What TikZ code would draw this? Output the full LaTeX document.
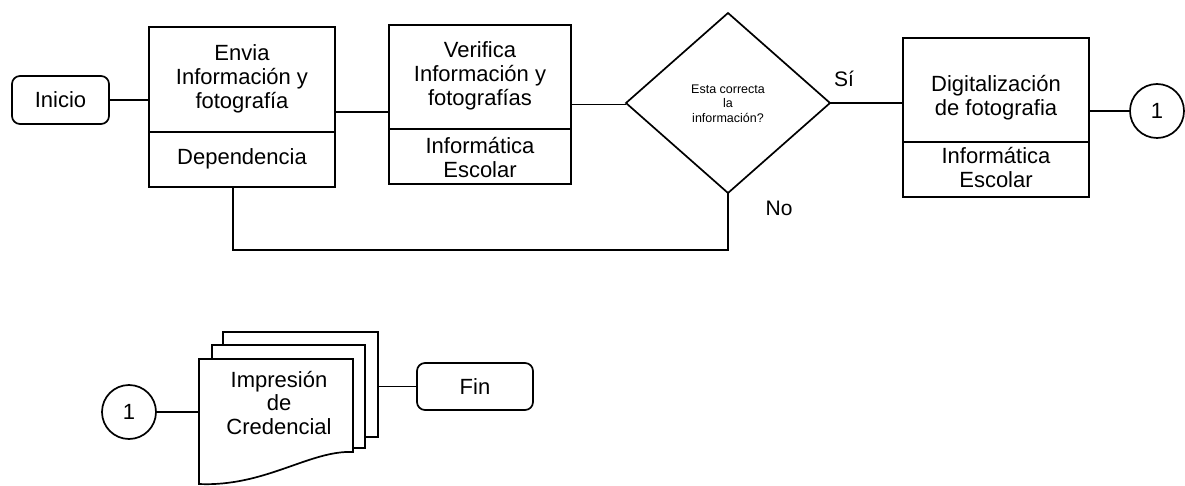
\documentclass[tikz,border=0pt]{standalone}
\usepackage{fontspec}
\setmainfont{Liberation Sans}
\usetikzlibrary{shapes.geometric}
\begin{document}
\begin{tikzpicture}[x=1pt,y=-1pt,
  every node/.style={inner sep=0pt, outer sep=0pt},
  txt/.style={font=\fontsize{22}{24}\selectfont, align=center},
  small/.style={font=\fontsize{12.5}{14.5}\selectfont, align=center},
  ln/.style={line width=1.7pt},
  procbox/.style={draw, line width=1.7pt, rectangle},
  term/.style={draw, line width=1.7pt, rectangle, rounded corners=8pt, font=\fontsize{22}{24}\selectfont},
  conn/.style={draw, line width=1.7pt, circle, minimum size=54pt, font=\fontsize{22}{24}\selectfont},
  decision/.style={draw, line width=1.7pt, diamond, minimum width=204pt, minimum height=180pt}]
\fill[white] (0,0) rectangle (1185,486);
\useasboundingbox (0,0) rectangle (1185,486);
% top row
\node[term, minimum width=97pt, minimum height=48pt] (inicio) at (60.5,100) {Inicio};
\node[procbox, minimum width=186pt, minimum height=160pt] (env) at (242,107) {};
\node[procbox, minimum width=182pt, minimum height=159pt] (ver) at (480,104.5) {};
\node[decision] (dia) at (728,103) {};
\node[procbox, minimum width=186pt, minimum height=159pt] (dig) at (996,117.5) {};
\node[conn] (c1) at (1157,111) {1};
% dividers
\coordinate (d1) at (0,132);
\coordinate (d2) at (0,129);
\coordinate (d3) at (0,142);
\draw[ln] (env.west |- d1) -- (env.east |- d1);
\draw[ln] (ver.west |- d2) -- (ver.east |- d2);
\draw[ln] (dig.west |- d3) -- (dig.east |- d3);
% texts
\node[txt] (envt) at (242,79) {Envia\\Información y\\fotografía};
\node[txt] (envd) at (242,159) {Dependencia};
\node[txt] (vert) at (480,76) {Verifica\\Información y\\fotografías};
\node[txt] (verd) at (480,157.5) {Informática\\Escolar};
\node[small] (diat) at (728,103.5) {Esta correcta\\la\\información?};
\node[txt] (digt) at (996,97.5) {Digitalización\\de fotografia};
\node[txt] (digd) at (996,168) {Informática\\Escolar};
\node[txt, font=\fontsize{21}{24}\selectfont] (si) at (844,79) {Sí};
\node[txt, font=\fontsize{21}{24}\selectfont] (no) at (779,208) {No};
% connectors
\draw[ln] (inicio.east) -- (inicio.east -| env.west);
\draw[line width=2.2pt] ([yshift=-5pt]env.east) -- ([yshift=-5pt]env.east -| ver.west);
\draw[ln] (ver.east) -- (ver.east -| dia.west);
\draw[ln] (dia.east) -- (dia.east -| dig.west);
\draw[ln] (c1.west -| dig.east) -- (c1.west);
\coordinate (fbk) at (0,250);
\draw[ln] ([xshift=-9pt]env.south) |- (dia.south |- fbk) -- (dia.south);
% bottom row
\node[conn] (c2) at (129,412) {1};
\node[procbox, fill=white, minimum width=155pt, minimum height=105pt] (back) at (300.5,384.5) {};
\node[procbox, fill=white, minimum width=153pt, minimum height=103pt] (mid) at (288.5,396.5) {};
\draw[ln, fill=white] (199,359) -- (353,359) -- (353,452) .. controls (310,450) and (265,487) .. (199,484) -- cycle;
\node[txt, font=\fontsize{22}{23.5}\selectfont] (doct) at (279,403) {Impresión\\de\\Credencial};
\coordinate (docw) at (199,414);
\node[term, minimum width=116pt, minimum height=47pt] (fin) at (475,386.5) {Fin};
\draw[ln] (c2.east) -- (c2.east -| docw);
\draw[ln] (fin.west -| back.east) -- (fin.west);
\end{tikzpicture}
\end{document}
